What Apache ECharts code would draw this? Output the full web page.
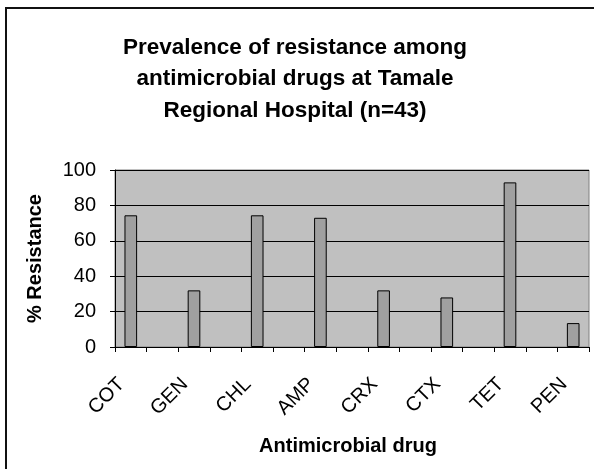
<!DOCTYPE html>
<html>
<head>
<meta charset="utf-8">
<script src="https://cdn.jsdelivr.net/npm/echarts@6/dist/echarts.min.js"></script>
<style>
html,body{margin:0;padding:0;background:#fff;}
#c{width:594px;height:469px;}
</style>
</head>
<body>
<div id="c"></div>
<script>
// 15 category slots; drug labels on every other slot
var categories = ['COT','','GEN','','CHL','','AMP','','CRX','','CTX','','TET','','PEN'];
var resistance = [74.4, null, 32, null, 74.4, null, 73, null, 32, null, 28, null, 93, null, 13.5];
var yTicks = [0, 20, 40, 60, 80, 100];

var FONT = 'Liberation Sans, Arial, sans-serif';
var chart = echarts.init(document.getElementById('c'), null, {renderer:'canvas'});
chart.setOption({
  animation: false,
  backgroundColor: '#fff',
  title: {
    text: 'Prevalence of resistance among\nantimicrobial drugs at Tamale\nRegional Hospital (n=43)',
    left: 290, top: 27, textAlign: 'center',
    textStyle: {fontFamily: FONT, fontSize: 22.5, fontWeight: 'bold', color: '#000', lineHeight: 31.5}
  },
  graphic: [{
    type: 'rect', shape: {x: 6, y: 8, width: 620, height: 500},
    style: {fill: 'none', stroke: '#111', lineWidth: 2}, z: 100
  }],
  grid: {
    left: 115, right: 5, top: 170, bottom: 122,
    show: true, backgroundColor: '#C0C0C0', borderColor: '#808080', borderWidth: 1
  },
  xAxis: {
    type: 'category', data: categories,
    name: 'Antimicrobial drug', nameLocation: 'middle', nameGap: 89,
    nameTextStyle: {fontFamily: FONT, fontSize: 20, fontWeight: 'bold', color: '#000', padding: [0, 8, 0, 0]},
    axisLine: {lineStyle: {color: '#000', width: 1}},
    axisTick: {show: true, interval: 0, alignWithLabel: false, length: 5, lineStyle: {color: '#000'}},
    axisLabel: {interval: 0, rotate: 45, margin: 25, padding: [0, 13, 0, 0], fontFamily: FONT, fontSize: 20, color: '#000'},
    splitLine: {show: false}
  },
  yAxis: {
    type: 'value', min: yTicks[0], max: yTicks[yTicks.length-1], interval: 20,
    name: '% Resistance', nameLocation: 'middle', nameGap: 70, nameRotate: 90,
    nameTextStyle: {fontFamily: FONT, fontSize: 20, fontWeight: 'bold', color: '#000'},
    axisLine: {show: true, lineStyle: {color: '#000', width: 1}},
    axisTick: {show: true, length: 5, lineStyle: {color: '#000'}},
    axisLabel: {margin: 19, fontFamily: FONT, fontSize: 20, color: '#000'},
    splitLine: {show: true, lineStyle: {color: '#000', width: 1}}
  },
  series: [{
    type: 'bar', data: resistance, barWidth: '40%',
    itemStyle: {color: '#A0A0A0', borderColor: '#000', borderWidth: 1}
  }]
});
</script>
</body>
</html>
